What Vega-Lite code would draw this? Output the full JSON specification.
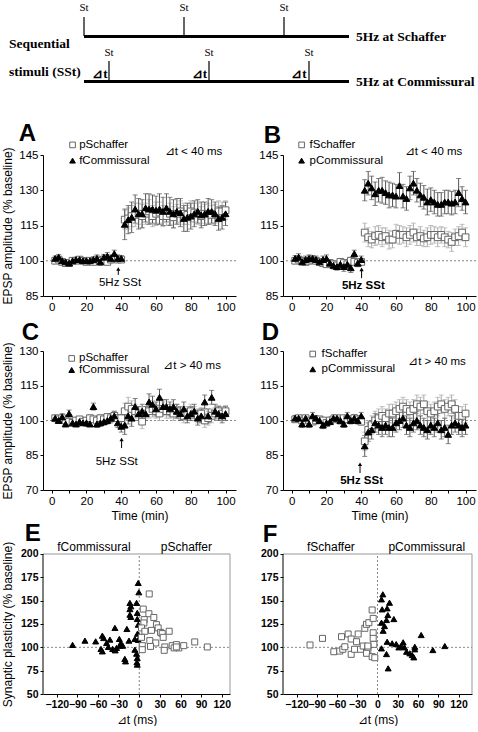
{
"$schema":"https://vega.github.io/schema/vega-lite/v6.json",
"autosize":{"type":"pad"},
"padding":{"left":0,"top":0,"right":0,"bottom":0},
"background":"white",
"bounds":"flush",
"columns":2,
"spacing":{"row":55,"column":47},
"config":{
 "view":{"stroke":null},
 "font":"Liberation Sans",
 "axis":{"domainColor":"#000000","domainWidth":1,"tickColor":"#000000","tickSize":3,"labelColor":"#000000","labelFontSize":11.5,"labelPadding":2,"titleFontSize":12,"titleFontWeight":"normal","titleColor":"#000000","grid":false,"labelOverlap":false,"labelFlush":false,"titleFont":"Liberation Sans","labelFont":"Liberation Sans"},
 "text":{"font":"Liberation Sans","fontSize":11.5,"color":"#000000"}
},
"datasets":{
"schem_lines":[{"x":0,"x2":530,"y":36.5},{"x":0,"x2":530,"y":81.5}],
"schem_ticks":[{"x":0,"y":17,"y2":36},{"x":200,"y":17,"y2":36},{"x":400,"y":17,"y2":36},{"x":50,"y":61,"y2":81},{"x":250,"y":61,"y2":81},{"x":450,"y":61,"y2":81}],
"schem_st":[{"x":0,"y":8,"label":"St"},{"x":200,"y":8,"label":"St"},{"x":400,"y":8,"label":"St"},{"x":50,"y":53,"label":"St"},{"x":250,"y":53,"label":"St"},{"x":450,"y":53,"label":"St"}],
"schem_dt":[{"x":32,"y":74,"label":"⊿t"},{"x":231,"y":74,"label":"⊿t"},{"x":430,"y":74,"label":"⊿t"}],
"schem_names":[{"x":544,"y":37,"label":"5Hz at Schaffer"},{"x":544,"y":82,"label":"5Hz at Commissural"},{"x":-150,"y":43.5,"label":"Sequential"},{"x":-150,"y":72,"label":"stimuli (SSt)"}],
"ts":[
{"p":"A","s":"sq","t":2,"y":100,"e":1},{"p":"A","s":"sq","t":4,"y":100.5,"e":1},{"p":"A","s":"sq","t":6,"y":99.5,"e":0.8},{"p":"A","s":"sq","t":8,"y":99,"e":1},{"p":"A","s":"sq","t":10,"y":99,"e":0.9},{"p":"A","s":"sq","t":12,"y":100,"e":1},{"p":"A","s":"sq","t":14,"y":100,"e":1},{"p":"A","s":"sq","t":16,"y":100.5,"e":1.1},{"p":"A","s":"sq","t":18,"y":100,"e":1},{"p":"A","s":"sq","t":20,"y":99.5,"e":1},
{"p":"A","s":"sq","t":22,"y":100,"e":1.2},{"p":"A","s":"sq","t":24,"y":99.5,"e":1},{"p":"A","s":"sq","t":26,"y":100.5,"e":1},{"p":"A","s":"sq","t":28,"y":100,"e":1.2},{"p":"A","s":"sq","t":30,"y":100.5,"e":1.5},{"p":"A","s":"sq","t":32,"y":99.5,"e":1.2},{"p":"A","s":"sq","t":34,"y":100.5,"e":1.5},{"p":"A","s":"sq","t":36,"y":101,"e":1.5},{"p":"A","s":"sq","t":38,"y":100.5,"e":1.2},{"p":"A","s":"sq","t":40,"y":100.5,"e":1},
{"p":"A","s":"sq","t":42,"y":117.5,"e":4},{"p":"A","s":"sq","t":44,"y":118,"e":4.5},{"p":"A","s":"sq","t":46,"y":119,"e":4.5},{"p":"A","s":"sq","t":48,"y":119.5,"e":5},{"p":"A","s":"sq","t":50,"y":120,"e":4.5},{"p":"A","s":"sq","t":52,"y":119,"e":5},{"p":"A","s":"sq","t":54,"y":120,"e":4.5},{"p":"A","s":"sq","t":56,"y":121,"e":5},{"p":"A","s":"sq","t":58,"y":119,"e":4.5},{"p":"A","s":"sq","t":60,"y":120,"e":5},
{"p":"A","s":"sq","t":62,"y":120.5,"e":4.5},{"p":"A","s":"sq","t":64,"y":119,"e":4.5},{"p":"A","s":"sq","t":66,"y":119,"e":4},{"p":"A","s":"sq","t":68,"y":120,"e":4.5},{"p":"A","s":"sq","t":70,"y":118.5,"e":4.5},{"p":"A","s":"sq","t":72,"y":120,"e":4},{"p":"A","s":"sq","t":74,"y":121,"e":4.5},{"p":"A","s":"sq","t":76,"y":120,"e":4.5},{"p":"A","s":"sq","t":78,"y":119.5,"e":4},{"p":"A","s":"sq","t":80,"y":121,"e":4.5},
{"p":"A","s":"sq","t":82,"y":120.5,"e":4},{"p":"A","s":"sq","t":84,"y":120,"e":4.5},{"p":"A","s":"sq","t":86,"y":119,"e":4},{"p":"A","s":"sq","t":88,"y":120,"e":4},{"p":"A","s":"sq","t":90,"y":120,"e":4.5},{"p":"A","s":"sq","t":92,"y":119.5,"e":4},{"p":"A","s":"sq","t":94,"y":120,"e":4},{"p":"A","s":"sq","t":96,"y":121,"e":4.5},{"p":"A","s":"sq","t":98,"y":121,"e":4},{"p":"A","s":"sq","t":100,"y":121.5,"e":4},
{"p":"A","s":"tri","t":2,"y":101,"e":1},{"p":"A","s":"tri","t":4,"y":101.5,"e":1.2},{"p":"A","s":"tri","t":6,"y":100,"e":1},{"p":"A","s":"tri","t":8,"y":99.5,"e":1},{"p":"A","s":"tri","t":10,"y":99,"e":1},{"p":"A","s":"tri","t":12,"y":100,"e":1},{"p":"A","s":"tri","t":14,"y":100.5,"e":1},{"p":"A","s":"tri","t":16,"y":100.5,"e":1.2},{"p":"A","s":"tri","t":18,"y":100,"e":1},{"p":"A","s":"tri","t":20,"y":100,"e":1},
{"p":"A","s":"tri","t":22,"y":100,"e":1},{"p":"A","s":"tri","t":24,"y":100.5,"e":1.2},{"p":"A","s":"tri","t":26,"y":101,"e":1.5},{"p":"A","s":"tri","t":28,"y":99.5,"e":1.5},{"p":"A","s":"tri","t":30,"y":101.5,"e":1.2},{"p":"A","s":"tri","t":32,"y":102,"e":1.5},{"p":"A","s":"tri","t":34,"y":101,"e":1.5},{"p":"A","s":"tri","t":36,"y":103,"e":1.5},{"p":"A","s":"tri","t":38,"y":101,"e":1.5},{"p":"A","s":"tri","t":40,"y":101,"e":1.2},
{"p":"A","s":"tri","t":42,"y":115.5,"e":6.5},{"p":"A","s":"tri","t":44,"y":117.5,"e":6},{"p":"A","s":"tri","t":46,"y":118.5,"e":6.5},{"p":"A","s":"tri","t":48,"y":122,"e":6},{"p":"A","s":"tri","t":50,"y":120,"e":6.5},{"p":"A","s":"tri","t":52,"y":120,"e":6},{"p":"A","s":"tri","t":54,"y":122.5,"e":6},{"p":"A","s":"tri","t":56,"y":122,"e":6.5},{"p":"A","s":"tri","t":58,"y":122,"e":6},{"p":"A","s":"tri","t":60,"y":121.5,"e":6},
{"p":"A","s":"tri","t":62,"y":122,"e":6.5},{"p":"A","s":"tri","t":64,"y":121,"e":6},{"p":"A","s":"tri","t":66,"y":122.5,"e":6},{"p":"A","s":"tri","t":68,"y":121,"e":6},{"p":"A","s":"tri","t":70,"y":120,"e":6},{"p":"A","s":"tri","t":72,"y":121,"e":5.5},{"p":"A","s":"tri","t":74,"y":120.5,"e":6},{"p":"A","s":"tri","t":76,"y":118,"e":5.5},{"p":"A","s":"tri","t":78,"y":118.5,"e":6},{"p":"A","s":"tri","t":80,"y":119,"e":5.5},
{"p":"A","s":"tri","t":82,"y":120,"e":5.5},{"p":"A","s":"tri","t":84,"y":121,"e":5},{"p":"A","s":"tri","t":86,"y":119.5,"e":5.5},{"p":"A","s":"tri","t":88,"y":120,"e":5},{"p":"A","s":"tri","t":90,"y":121,"e":5.5},{"p":"A","s":"tri","t":92,"y":121,"e":5},{"p":"A","s":"tri","t":94,"y":120,"e":5},{"p":"A","s":"tri","t":96,"y":118,"e":5},{"p":"A","s":"tri","t":98,"y":118.5,"e":5},{"p":"A","s":"tri","t":100,"y":120,"e":5},
{"p":"B","s":"sq","t":2,"y":100,"e":1},{"p":"B","s":"sq","t":4,"y":100.5,"e":1},{"p":"B","s":"sq","t":6,"y":100,"e":1},{"p":"B","s":"sq","t":8,"y":99.5,"e":1},{"p":"B","s":"sq","t":10,"y":100,"e":1.2},{"p":"B","s":"sq","t":12,"y":100.5,"e":1},{"p":"B","s":"sq","t":14,"y":100,"e":1.2},{"p":"B","s":"sq","t":16,"y":99.5,"e":1},{"p":"B","s":"sq","t":18,"y":99,"e":1.2},{"p":"B","s":"sq","t":20,"y":98.5,"e":1.2},
{"p":"B","s":"sq","t":22,"y":99,"e":1.5},{"p":"B","s":"sq","t":24,"y":98.5,"e":1.2},{"p":"B","s":"sq","t":26,"y":98,"e":1.2},{"p":"B","s":"sq","t":28,"y":99.5,"e":1.5},{"p":"B","s":"sq","t":30,"y":99,"e":1.5},{"p":"B","s":"sq","t":32,"y":98.5,"e":1.5},{"p":"B","s":"sq","t":34,"y":100,"e":1.5},{"p":"B","s":"sq","t":36,"y":99.5,"e":1.5},{"p":"B","s":"sq","t":38,"y":99,"e":1.5},{"p":"B","s":"sq","t":40,"y":99.5,"e":1.2},
{"p":"B","s":"sq","t":42,"y":112,"e":4},{"p":"B","s":"sq","t":44,"y":110,"e":4},{"p":"B","s":"sq","t":46,"y":109,"e":3.5},{"p":"B","s":"sq","t":48,"y":110.5,"e":4},{"p":"B","s":"sq","t":50,"y":111,"e":4},{"p":"B","s":"sq","t":52,"y":110,"e":4},{"p":"B","s":"sq","t":54,"y":110.5,"e":3.5},{"p":"B","s":"sq","t":56,"y":109,"e":4},{"p":"B","s":"sq","t":58,"y":109,"e":3.5},{"p":"B","s":"sq","t":60,"y":111.5,"e":4},
{"p":"B","s":"sq","t":62,"y":111,"e":4},{"p":"B","s":"sq","t":64,"y":111,"e":3.5},{"p":"B","s":"sq","t":66,"y":110,"e":4},{"p":"B","s":"sq","t":68,"y":111,"e":4},{"p":"B","s":"sq","t":70,"y":112,"e":4},{"p":"B","s":"sq","t":72,"y":110,"e":3.5},{"p":"B","s":"sq","t":74,"y":110.5,"e":4},{"p":"B","s":"sq","t":76,"y":109.5,"e":3.5},{"p":"B","s":"sq","t":78,"y":110,"e":4},{"p":"B","s":"sq","t":80,"y":111,"e":4},
{"p":"B","s":"sq","t":82,"y":111,"e":3.5},{"p":"B","s":"sq","t":84,"y":110,"e":4},{"p":"B","s":"sq","t":86,"y":111,"e":3.5},{"p":"B","s":"sq","t":88,"y":110,"e":4},{"p":"B","s":"sq","t":90,"y":109,"e":3.5},{"p":"B","s":"sq","t":92,"y":108,"e":4},{"p":"B","s":"sq","t":94,"y":110,"e":3.5},{"p":"B","s":"sq","t":96,"y":110.5,"e":4},{"p":"B","s":"sq","t":98,"y":112,"e":3.5},{"p":"B","s":"sq","t":100,"y":110,"e":4},
{"p":"B","s":"tri","t":2,"y":101,"e":1.2},{"p":"B","s":"tri","t":4,"y":101.5,"e":1.5},{"p":"B","s":"tri","t":6,"y":99.5,"e":1.2},{"p":"B","s":"tri","t":8,"y":100.5,"e":1.5},{"p":"B","s":"tri","t":10,"y":101,"e":1.5},{"p":"B","s":"tri","t":12,"y":101,"e":1.2},{"p":"B","s":"tri","t":14,"y":100.5,"e":1.5},{"p":"B","s":"tri","t":16,"y":99.5,"e":1.5},{"p":"B","s":"tri","t":18,"y":100.5,"e":1.5},{"p":"B","s":"tri","t":20,"y":101,"e":1.5},
{"p":"B","s":"tri","t":22,"y":99,"e":1.5},{"p":"B","s":"tri","t":24,"y":98,"e":1.5},{"p":"B","s":"tri","t":26,"y":97.5,"e":1.5},{"p":"B","s":"tri","t":28,"y":98.5,"e":1.5},{"p":"B","s":"tri","t":30,"y":97.5,"e":2},{"p":"B","s":"tri","t":32,"y":98.5,"e":2},{"p":"B","s":"tri","t":34,"y":97,"e":2},{"p":"B","s":"tri","t":36,"y":103,"e":1.5},{"p":"B","s":"tri","t":38,"y":99,"e":1.5},{"p":"B","s":"tri","t":40,"y":100.5,"e":1.5},
{"p":"B","s":"tri","t":42,"y":130,"e":4.5},{"p":"B","s":"tri","t":44,"y":133,"e":5},{"p":"B","s":"tri","t":46,"y":131,"e":5},{"p":"B","s":"tri","t":48,"y":128.5,"e":5},{"p":"B","s":"tri","t":50,"y":130,"e":5},{"p":"B","s":"tri","t":52,"y":130,"e":5.5},{"p":"B","s":"tri","t":54,"y":129,"e":5},{"p":"B","s":"tri","t":56,"y":128,"e":5.5},{"p":"B","s":"tri","t":58,"y":128,"e":5},{"p":"B","s":"tri","t":60,"y":127.5,"e":5},
{"p":"B","s":"tri","t":62,"y":132,"e":5.5},{"p":"B","s":"tri","t":64,"y":127.5,"e":5},{"p":"B","s":"tri","t":66,"y":126.5,"e":5},{"p":"B","s":"tri","t":68,"y":131,"e":5},{"p":"B","s":"tri","t":70,"y":133,"e":5},{"p":"B","s":"tri","t":72,"y":130,"e":5},{"p":"B","s":"tri","t":74,"y":128,"e":5},{"p":"B","s":"tri","t":76,"y":127,"e":5},{"p":"B","s":"tri","t":78,"y":125,"e":5.5},{"p":"B","s":"tri","t":80,"y":126,"e":5},
{"p":"B","s":"tri","t":82,"y":125,"e":5},{"p":"B","s":"tri","t":84,"y":124,"e":5},{"p":"B","s":"tri","t":86,"y":124,"e":5},{"p":"B","s":"tri","t":88,"y":125,"e":5},{"p":"B","s":"tri","t":90,"y":125,"e":5},{"p":"B","s":"tri","t":92,"y":124.5,"e":5},{"p":"B","s":"tri","t":94,"y":125,"e":5},{"p":"B","s":"tri","t":96,"y":129,"e":6},{"p":"B","s":"tri","t":98,"y":126.5,"e":5},{"p":"B","s":"tri","t":100,"y":125,"e":5},
{"p":"C","s":"sq","t":2,"y":101,"e":1.2},{"p":"C","s":"sq","t":4,"y":100.5,"e":1},{"p":"C","s":"sq","t":6,"y":101,"e":1.2},{"p":"C","s":"sq","t":8,"y":100,"e":1},{"p":"C","s":"sq","t":10,"y":99.5,"e":1.2},{"p":"C","s":"sq","t":12,"y":99,"e":1},{"p":"C","s":"sq","t":14,"y":100,"e":1.2},{"p":"C","s":"sq","t":16,"y":100.5,"e":1},{"p":"C","s":"sq","t":18,"y":99.5,"e":1.2},{"p":"C","s":"sq","t":20,"y":100,"e":1},
{"p":"C","s":"sq","t":22,"y":101,"e":1.5},{"p":"C","s":"sq","t":24,"y":100.5,"e":1.2},{"p":"C","s":"sq","t":26,"y":100,"e":1.5},{"p":"C","s":"sq","t":28,"y":101,"e":1.5},{"p":"C","s":"sq","t":30,"y":100.5,"e":1.5},{"p":"C","s":"sq","t":32,"y":101.5,"e":1.5},{"p":"C","s":"sq","t":34,"y":101,"e":1.5},{"p":"C","s":"sq","t":36,"y":102,"e":2},{"p":"C","s":"sq","t":38,"y":101,"e":1.5},{"p":"C","s":"sq","t":40,"y":101,"e":1.5},
{"p":"C","s":"sq","t":42,"y":104,"e":3.5},{"p":"C","s":"sq","t":44,"y":106,"e":4},{"p":"C","s":"sq","t":46,"y":105,"e":3.5},{"p":"C","s":"sq","t":48,"y":104,"e":3},{"p":"C","s":"sq","t":50,"y":103,"e":3},{"p":"C","s":"sq","t":52,"y":99.5,"e":3},{"p":"C","s":"sq","t":54,"y":103,"e":3},{"p":"C","s":"sq","t":56,"y":104,"e":3},{"p":"C","s":"sq","t":58,"y":105,"e":3.5},{"p":"C","s":"sq","t":60,"y":104,"e":3},
{"p":"C","s":"sq","t":62,"y":103,"e":3},{"p":"C","s":"sq","t":64,"y":105,"e":3},{"p":"C","s":"sq","t":66,"y":104,"e":3},{"p":"C","s":"sq","t":68,"y":104,"e":3},{"p":"C","s":"sq","t":70,"y":103,"e":3},{"p":"C","s":"sq","t":72,"y":104,"e":3},{"p":"C","s":"sq","t":74,"y":103,"e":2.5},{"p":"C","s":"sq","t":76,"y":102,"e":3},{"p":"C","s":"sq","t":78,"y":103,"e":3},{"p":"C","s":"sq","t":80,"y":104,"e":3},
{"p":"C","s":"sq","t":82,"y":103,"e":3},{"p":"C","s":"sq","t":84,"y":102,"e":3},{"p":"C","s":"sq","t":86,"y":103,"e":2.5},{"p":"C","s":"sq","t":88,"y":100,"e":3},{"p":"C","s":"sq","t":90,"y":101,"e":3},{"p":"C","s":"sq","t":92,"y":102,"e":3},{"p":"C","s":"sq","t":94,"y":103,"e":2.5},{"p":"C","s":"sq","t":96,"y":104,"e":2.5},{"p":"C","s":"sq","t":98,"y":103,"e":3},{"p":"C","s":"sq","t":100,"y":104,"e":2.5},
{"p":"C","s":"tri","t":2,"y":101,"e":1.2},{"p":"C","s":"tri","t":4,"y":100,"e":1.2},{"p":"C","s":"tri","t":6,"y":101.5,"e":1.5},{"p":"C","s":"tri","t":8,"y":98.5,"e":1.2},{"p":"C","s":"tri","t":10,"y":103,"e":1.5},{"p":"C","s":"tri","t":12,"y":99,"e":1.2},{"p":"C","s":"tri","t":14,"y":98.5,"e":1.2},{"p":"C","s":"tri","t":16,"y":99.5,"e":1.2},{"p":"C","s":"tri","t":18,"y":99,"e":1.2},{"p":"C","s":"tri","t":20,"y":99,"e":1.5},
{"p":"C","s":"tri","t":22,"y":98.5,"e":1.2},{"p":"C","s":"tri","t":24,"y":106,"e":1.5},{"p":"C","s":"tri","t":26,"y":98.5,"e":1.5},{"p":"C","s":"tri","t":28,"y":99,"e":1.5},{"p":"C","s":"tri","t":30,"y":99.5,"e":1.5},{"p":"C","s":"tri","t":32,"y":100,"e":1.5},{"p":"C","s":"tri","t":34,"y":101,"e":2},{"p":"C","s":"tri","t":36,"y":102,"e":2},{"p":"C","s":"tri","t":38,"y":99,"e":2},{"p":"C","s":"tri","t":40,"y":97.5,"e":2.5},
{"p":"C","s":"tri","t":42,"y":98,"e":4},{"p":"C","s":"tri","t":44,"y":102,"e":3.5},{"p":"C","s":"tri","t":46,"y":101,"e":3.5},{"p":"C","s":"tri","t":48,"y":106,"e":3.5},{"p":"C","s":"tri","t":50,"y":103,"e":3},{"p":"C","s":"tri","t":52,"y":104,"e":3},{"p":"C","s":"tri","t":54,"y":103,"e":3},{"p":"C","s":"tri","t":56,"y":108,"e":3.5},{"p":"C","s":"tri","t":58,"y":107,"e":3.5},{"p":"C","s":"tri","t":60,"y":105,"e":3},
{"p":"C","s":"tri","t":62,"y":110,"e":3.5},{"p":"C","s":"tri","t":64,"y":106,"e":3},{"p":"C","s":"tri","t":66,"y":106,"e":3},{"p":"C","s":"tri","t":68,"y":105,"e":3},{"p":"C","s":"tri","t":70,"y":106,"e":3},{"p":"C","s":"tri","t":72,"y":104,"e":3},{"p":"C","s":"tri","t":74,"y":103,"e":3},{"p":"C","s":"tri","t":76,"y":105,"e":3},{"p":"C","s":"tri","t":78,"y":102,"e":3},{"p":"C","s":"tri","t":80,"y":103,"e":3},
{"p":"C","s":"tri","t":82,"y":104,"e":3},{"p":"C","s":"tri","t":84,"y":101,"e":3},{"p":"C","s":"tri","t":86,"y":102,"e":3},{"p":"C","s":"tri","t":88,"y":108,"e":3},{"p":"C","s":"tri","t":90,"y":102,"e":3},{"p":"C","s":"tri","t":92,"y":110,"e":3},{"p":"C","s":"tri","t":94,"y":104,"e":3},{"p":"C","s":"tri","t":96,"y":103,"e":3},{"p":"C","s":"tri","t":98,"y":102,"e":3},{"p":"C","s":"tri","t":100,"y":103,"e":3},
{"p":"D","s":"sq","t":2,"y":100.5,"e":1.2},{"p":"D","s":"sq","t":4,"y":101,"e":1.2},{"p":"D","s":"sq","t":6,"y":100,"e":1.5},{"p":"D","s":"sq","t":8,"y":101,"e":1.2},{"p":"D","s":"sq","t":10,"y":100,"e":1.2},{"p":"D","s":"sq","t":12,"y":99.5,"e":1.2},{"p":"D","s":"sq","t":14,"y":100,"e":1.2},{"p":"D","s":"sq","t":16,"y":100.5,"e":1.2},{"p":"D","s":"sq","t":18,"y":100,"e":1.2},{"p":"D","s":"sq","t":20,"y":99,"e":1.2},
{"p":"D","s":"sq","t":22,"y":100,"e":1.5},{"p":"D","s":"sq","t":24,"y":100.5,"e":1.2},{"p":"D","s":"sq","t":26,"y":101,"e":1.2},{"p":"D","s":"sq","t":28,"y":100,"e":1.5},{"p":"D","s":"sq","t":30,"y":101,"e":1.2},{"p":"D","s":"sq","t":32,"y":100.5,"e":1.5},{"p":"D","s":"sq","t":34,"y":100.5,"e":1.2},{"p":"D","s":"sq","t":36,"y":101,"e":1.5},{"p":"D","s":"sq","t":38,"y":100.5,"e":1.5},{"p":"D","s":"sq","t":40,"y":99.5,"e":1.5},
{"p":"D","s":"sq","t":42,"y":91,"e":4},{"p":"D","s":"sq","t":44,"y":96,"e":4},{"p":"D","s":"sq","t":46,"y":98,"e":4},{"p":"D","s":"sq","t":48,"y":100,"e":4},{"p":"D","s":"sq","t":50,"y":101,"e":4},{"p":"D","s":"sq","t":52,"y":102,"e":4},{"p":"D","s":"sq","t":54,"y":101,"e":4},{"p":"D","s":"sq","t":56,"y":103,"e":4},{"p":"D","s":"sq","t":58,"y":103,"e":4},{"p":"D","s":"sq","t":60,"y":104,"e":4},
{"p":"D","s":"sq","t":62,"y":105,"e":4},{"p":"D","s":"sq","t":64,"y":106,"e":4},{"p":"D","s":"sq","t":66,"y":105,"e":4},{"p":"D","s":"sq","t":68,"y":104,"e":4},{"p":"D","s":"sq","t":70,"y":105,"e":4},{"p":"D","s":"sq","t":72,"y":107,"e":4},{"p":"D","s":"sq","t":74,"y":106,"e":4},{"p":"D","s":"sq","t":76,"y":107,"e":4},{"p":"D","s":"sq","t":78,"y":104,"e":4},{"p":"D","s":"sq","t":80,"y":103,"e":4},
{"p":"D","s":"sq","t":82,"y":104,"e":4},{"p":"D","s":"sq","t":84,"y":106,"e":4},{"p":"D","s":"sq","t":86,"y":107,"e":4},{"p":"D","s":"sq","t":88,"y":105,"e":4},{"p":"D","s":"sq","t":90,"y":106,"e":4},{"p":"D","s":"sq","t":92,"y":107,"e":4},{"p":"D","s":"sq","t":94,"y":105,"e":4},{"p":"D","s":"sq","t":96,"y":102,"e":4},{"p":"D","s":"sq","t":98,"y":102,"e":4},{"p":"D","s":"sq","t":100,"y":103,"e":4},
{"p":"D","s":"tri","t":2,"y":101,"e":1.2},{"p":"D","s":"tri","t":4,"y":101,"e":1.2},{"p":"D","s":"tri","t":6,"y":98.5,"e":1.5},{"p":"D","s":"tri","t":8,"y":101,"e":1.2},{"p":"D","s":"tri","t":10,"y":98.5,"e":1.5},{"p":"D","s":"tri","t":12,"y":102,"e":1.5},{"p":"D","s":"tri","t":14,"y":101,"e":1.2},{"p":"D","s":"tri","t":16,"y":100,"e":1.2},{"p":"D","s":"tri","t":18,"y":98,"e":1.5},{"p":"D","s":"tri","t":20,"y":99,"e":1.2},
{"p":"D","s":"tri","t":22,"y":99.5,"e":1.2},{"p":"D","s":"tri","t":24,"y":101,"e":1.5},{"p":"D","s":"tri","t":26,"y":101,"e":1.2},{"p":"D","s":"tri","t":28,"y":100,"e":1.2},{"p":"D","s":"tri","t":30,"y":98.5,"e":1.5},{"p":"D","s":"tri","t":32,"y":102,"e":1.5},{"p":"D","s":"tri","t":34,"y":100,"e":1.5},{"p":"D","s":"tri","t":36,"y":101,"e":1.5},{"p":"D","s":"tri","t":38,"y":100,"e":1.5},{"p":"D","s":"tri","t":40,"y":102,"e":1.5},
{"p":"D","s":"tri","t":42,"y":89,"e":4.5},{"p":"D","s":"tri","t":44,"y":95,"e":4},{"p":"D","s":"tri","t":46,"y":96,"e":4},{"p":"D","s":"tri","t":48,"y":99,"e":4},{"p":"D","s":"tri","t":50,"y":98,"e":4},{"p":"D","s":"tri","t":52,"y":97,"e":4},{"p":"D","s":"tri","t":54,"y":98,"e":4},{"p":"D","s":"tri","t":56,"y":97,"e":4},{"p":"D","s":"tri","t":58,"y":97,"e":4},{"p":"D","s":"tri","t":60,"y":99,"e":4},
{"p":"D","s":"tri","t":62,"y":100,"e":4},{"p":"D","s":"tri","t":64,"y":101,"e":4},{"p":"D","s":"tri","t":66,"y":98,"e":4},{"p":"D","s":"tri","t":68,"y":97,"e":4},{"p":"D","s":"tri","t":70,"y":99,"e":4},{"p":"D","s":"tri","t":72,"y":100,"e":4},{"p":"D","s":"tri","t":74,"y":98,"e":4},{"p":"D","s":"tri","t":76,"y":97,"e":4},{"p":"D","s":"tri","t":78,"y":96,"e":4},{"p":"D","s":"tri","t":80,"y":98,"e":4},
{"p":"D","s":"tri","t":82,"y":97,"e":4},{"p":"D","s":"tri","t":84,"y":99,"e":4},{"p":"D","s":"tri","t":86,"y":96,"e":4},{"p":"D","s":"tri","t":88,"y":97,"e":4},{"p":"D","s":"tri","t":90,"y":94,"e":4},{"p":"D","s":"tri","t":92,"y":98,"e":4},{"p":"D","s":"tri","t":94,"y":99,"e":4},{"p":"D","s":"tri","t":96,"y":98,"e":4},{"p":"D","s":"tri","t":98,"y":97,"e":4},{"p":"D","s":"tri","t":100,"y":98,"e":4}
],
"sc":[
{"p":"E","s":"tri","x":-1.5,"y":169},{"p":"E","s":"tri","x":-0.6,"y":159},{"p":"E","s":"tri","x":-13.6,"y":147.6},{"p":"E","s":"tri","x":-12.2,"y":144},{"p":"E","s":"tri","x":-3.9,"y":147.6},{"p":"E","s":"tri","x":-13.6,"y":141},{"p":"E","s":"tri","x":-13.6,"y":135},{"p":"E","s":"tri","x":-12.2,"y":132.6},{"p":"E","s":"tri","x":-2.9,"y":136.9},{"p":"E","s":"tri","x":-2.9,"y":130.4},
{"p":"E","s":"tri","x":-1.5,"y":124.3},{"p":"E","s":"tri","x":-35.4,"y":120.8},{"p":"E","s":"tri","x":-18,"y":119.7},{"p":"E","s":"tri","x":-2.5,"y":114.7},{"p":"E","s":"tri","x":-53.7,"y":112.5},{"p":"E","s":"tri","x":-51.8,"y":110},{"p":"E","s":"tri","x":-42.7,"y":108.3},{"p":"E","s":"tri","x":-29,"y":109},{"p":"E","s":"tri","x":-15,"y":107.2},{"p":"E","s":"tri","x":-6.4,"y":109},
{"p":"E","s":"tri","x":-97,"y":102.6},{"p":"E","s":"tri","x":-79,"y":107.2},{"p":"E","s":"tri","x":-63.4,"y":106.4},{"p":"E","s":"tri","x":-47.5,"y":104.7},{"p":"E","s":"tri","x":-26.7,"y":104.7},{"p":"E","s":"tri","x":-45,"y":100.4},{"p":"E","s":"tri","x":-28,"y":101.8},{"p":"E","s":"tri","x":-55.7,"y":98.3},{"p":"E","s":"tri","x":-53.7,"y":95.7},{"p":"E","s":"tri","x":-38.7,"y":98.3},
{"p":"E","s":"tri","x":-33,"y":99.4},{"p":"E","s":"tri","x":-24,"y":101.8},{"p":"E","s":"tri","x":-6.4,"y":97.5},{"p":"E","s":"tri","x":-3.9,"y":93.2},{"p":"E","s":"tri","x":-2.9,"y":88.6},{"p":"E","s":"tri","x":-3.4,"y":84},{"p":"E","s":"tri","x":-2.9,"y":81.5},{"p":"E","s":"tri","x":-21,"y":87.6},{"p":"E","s":"tri","x":-20,"y":85},{"p":"E","s":"tri","x":-35,"y":96.8},{"p":"E","s":"tri","x":-1.5,"y":108},
{"p":"E","s":"sq","x":14.5,"y":157.2},{"p":"E","s":"sq","x":5.8,"y":141},{"p":"E","s":"sq","x":14,"y":136},{"p":"E","s":"sq","x":21.2,"y":132},{"p":"E","s":"sq","x":7.2,"y":129.7},{"p":"E","s":"sq","x":6.7,"y":126.1},{"p":"E","s":"sq","x":3.3,"y":120.8},{"p":"E","s":"sq","x":25,"y":124.3},{"p":"E","s":"sq","x":27.5,"y":120.8},{"p":"E","s":"sq","x":17.8,"y":118.2},
{"p":"E","s":"sq","x":43.5,"y":117.2},{"p":"E","s":"sq","x":31,"y":116},{"p":"E","s":"sq","x":33.4,"y":114.7},{"p":"E","s":"sq","x":8.2,"y":117.2},{"p":"E","s":"sq","x":34.8,"y":110.7},{"p":"E","s":"sq","x":3.3,"y":110.7},{"p":"E","s":"sq","x":15.4,"y":107.2},{"p":"E","s":"sq","x":24,"y":104.7},{"p":"E","s":"sq","x":16.4,"y":101},{"p":"E","s":"sq","x":4.4,"y":101.8},
{"p":"E","s":"sq","x":4.4,"y":97.5},{"p":"E","s":"sq","x":37.2,"y":100.4},{"p":"E","s":"sq","x":36.3,"y":96.8},{"p":"E","s":"sq","x":47.9,"y":101.8},{"p":"E","s":"sq","x":54,"y":102.9},{"p":"E","s":"sq","x":57.5,"y":99.4},{"p":"E","s":"sq","x":64.7,"y":101.8},{"p":"E","s":"sq","x":80.7,"y":105.8},{"p":"E","s":"sq","x":99,"y":100.4},{"p":"E","s":"sq","x":50.8,"y":99.4},{"p":"E","s":"sq","x":54,"y":100.4},
{"p":"F","s":"sq","x":-100,"y":102.5},{"p":"F","s":"sq","x":-81.5,"y":109.6},{"p":"F","s":"sq","x":-64.7,"y":95.3},{"p":"F","s":"sq","x":-55.9,"y":96},{"p":"F","s":"sq","x":-53.3,"y":111.4},{"p":"F","s":"sq","x":-51.4,"y":97.9},{"p":"F","s":"sq","x":-48.4,"y":100.6},{"p":"F","s":"sq","x":-39,"y":92.5},{"p":"F","s":"sq","x":-43.5,"y":114.3},{"p":"F","s":"sq","x":-39,"y":108.9},
{"p":"F","s":"sq","x":-31,"y":106},{"p":"F","s":"sq","x":-28.6,"y":114.3},{"p":"F","s":"sq","x":-34,"y":97.9},{"p":"F","s":"sq","x":-25.2,"y":97.9},{"p":"F","s":"sq","x":-21.2,"y":101.4},{"p":"F","s":"sq","x":-18.8,"y":120.4},{"p":"F","s":"sq","x":-16.3,"y":124.6},{"p":"F","s":"sq","x":-12.8,"y":126.4},{"p":"F","s":"sq","x":-6.4,"y":131},{"p":"F","s":"sq","x":-7.9,"y":140},
{"p":"F","s":"sq","x":-6.4,"y":115.6},{"p":"F","s":"sq","x":-6.4,"y":109.6},{"p":"F","s":"sq","x":-5.4,"y":103.2},{"p":"F","s":"sq","x":-14.3,"y":100},{"p":"F","s":"sq","x":-14.3,"y":96},{"p":"F","s":"sq","x":-16.3,"y":93.6},{"p":"F","s":"sq","x":-7.9,"y":90},{"p":"F","s":"sq","x":-4,"y":88.9},{"p":"F","s":"sq","x":-14.3,"y":101.4},
{"p":"F","s":"tri","x":7.9,"y":156.8},{"p":"F","s":"tri","x":5.9,"y":151.4},{"p":"F","s":"tri","x":17.8,"y":147.8},{"p":"F","s":"tri","x":6.9,"y":140.7},{"p":"F","s":"tri","x":14.3,"y":141.8},{"p":"F","s":"tri","x":15.3,"y":134.6},{"p":"F","s":"tri","x":13.3,"y":129.3},{"p":"F","s":"tri","x":24.2,"y":130.3},{"p":"F","s":"tri","x":5.9,"y":126.4},{"p":"F","s":"tri","x":10.4,"y":122.8},
{"p":"F","s":"tri","x":8.4,"y":117.8},{"p":"F","s":"tri","x":14.3,"y":106},{"p":"F","s":"tri","x":21.7,"y":104.3},{"p":"F","s":"tri","x":27.7,"y":103.5},{"p":"F","s":"tri","x":38,"y":105.4},{"p":"F","s":"tri","x":31.6,"y":100},{"p":"F","s":"tri","x":40,"y":100},{"p":"F","s":"tri","x":5.9,"y":98.9},{"p":"F","s":"tri","x":13.3,"y":92.8},{"p":"F","s":"tri","x":15.8,"y":77.5},
{"p":"F","s":"tri","x":43,"y":95.3},{"p":"F","s":"tri","x":47.9,"y":93.6},{"p":"F","s":"tri","x":51.4,"y":91.7},{"p":"F","s":"tri","x":53.8,"y":89.3},{"p":"F","s":"tri","x":55.3,"y":100.6},{"p":"F","s":"tri","x":55.3,"y":97.9},{"p":"F","s":"tri","x":64.7,"y":113.2},{"p":"F","s":"tri","x":82,"y":97.1},{"p":"F","s":"tri","x":99.7,"y":101.4},{"p":"F","s":"tri","x":35,"y":101.4}
]
},
"concat":[
{
 "width":193,"height":100,
 "layer":[
  {"data":{"name":"schem_lines"},"mark":{"type":"rule","strokeWidth":3,"color":"#000000"},"encoding":{"x":{"field":"x","type":"quantitative","scale":{"domain":[-82,304],"nice":false,"zero":false},"axis":null},"x2":{"field":"x2"},"y":{"field":"y","type":"quantitative","scale":{"domain":[0,100],"nice":false,"zero":false,"reverse":true},"axis":null}}},
  {"data":{"name":"schem_ticks"},"mark":{"type":"rule","strokeWidth":1.2,"color":"#000000"},"encoding":{"x":{"field":"x","type":"quantitative","axis":null},"y":{"field":"y","type":"quantitative","axis":null},"y2":{"field":"y2"}}},
  {"data":{"name":"schem_st"},"mark":{"type":"text","font":"Liberation Serif","fontSize":11,"align":"center","baseline":"middle"},"encoding":{"x":{"field":"x","type":"quantitative","axis":null},"y":{"field":"y","type":"quantitative","axis":null},"text":{"field":"label"}}},
  {"data":{"name":"schem_dt"},"mark":{"type":"text","font":"Liberation Serif","fontSize":13,"fontWeight":"bold","align":"center","baseline":"middle"},"encoding":{"x":{"field":"x","type":"quantitative","axis":null},"y":{"field":"y","type":"quantitative","axis":null},"text":{"field":"label"}}},
  {"data":{"name":"schem_names"},"mark":{"type":"text","font":"Liberation Serif","fontSize":13.5,"fontWeight":"bold","align":"left","baseline":"middle"},"encoding":{"x":{"field":"x","type":"quantitative","axis":null},"y":{"field":"y","type":"quantitative","axis":null},"text":{"field":"label"}}}
 ]
},
{
 "width":193,"height":100,
 "data":{"values":[{}]},
 "mark":{"type":"text","text":""},
 "encoding":{}
},
{
 "width":193,"height":141,
 "layer":[
  {"data":{"values":[{}]},"mark":{"type":"rule","color":"#888888","strokeDash":[2,2],"strokeWidth":1},"encoding":{"y":{"datum":100,"type":"quantitative"}}},
  {"data":{"name":"ts"},"transform":[{"filter":"datum.p==='A'"}],"mark":{"type":"errorbar","ticks":{"size":5},"thickness":1},"encoding":{"x":{"field":"t","type":"quantitative","title":null},"y":{"field":"y","type":"quantitative","title":"EPSP amplitude (% baseline)"},"yError":{"field":"e"},"color":{"field":"s","type":"nominal","scale":{"domain":["sq","tri"],"range":["#aaaaaa","#555555"]},"legend":null}}},
  {"data":{"name":"ts"},"transform":[{"filter":"datum.p==='A'"}],"mark":{"type":"point","filled":true,"size":45,"strokeWidth":1,"opacity":1},"encoding":{
    "x":{"field":"t","type":"quantitative","scale":{"domain":[-5,106],"nice":false,"zero":false},"axis":{"values":[0,10,20,30,40,50,60,70,80,90,100],"tickCount":30,"labelExpr":"datum.value % 20 === 0 ? datum.label : ''","title":null,"labelOverlap":false}},
    "y":{"field":"y","type":"quantitative","scale":{"domain":[85,145],"nice":false,"zero":false},"axis":{"values":[85,100,115,130,145],"tickCount":30,"title":"EPSP amplitude (% baseline)","titleX":-29,"labelOverlap":false}},
    "shape":{"field":"s","type":"nominal","scale":{"domain":["sq","tri"],"range":["square","triangle-up"]},"legend":null},
    "fill":{"field":"s","type":"nominal","scale":{"domain":["sq","tri"],"range":["#ffffff","#000000"]},"legend":null},
    "stroke":{"field":"s","type":"nominal","scale":{"domain":["sq","tri"],"range":["#666666","#000000"]},"legend":null}}},
  {"data":{"values":[{"s":"sq","t":12,"y":149.3},{"s":"tri","t":12,"y":142.6}]},"mark":{"type":"point","filled":true,"size":32,"strokeWidth":1,"opacity":1},"encoding":{"x":{"field":"t","type":"quantitative"},"y":{"field":"y","type":"quantitative"},
    "shape":{"field":"s","type":"nominal","scale":{"domain":["sq","tri"],"range":["square","triangle-up"]},"legend":null},
    "fill":{"field":"s","type":"nominal","scale":{"domain":["sq","tri"],"range":["#ffffff","#000000"]},"legend":null},
    "stroke":{"field":"s","type":"nominal","scale":{"domain":["sq","tri"],"range":["#666666","#000000"]},"legend":null}}},
  {"data":{"values":[{"t":15.8,"y":149.3,"label":"pSchaffer"},{"t":15.8,"y":142.6,"label":"fCommissural"},{"t":65,"y":146.4,"label":"⊿t < 40 ms"}]},"mark":{"type":"text","align":"left","baseline":"middle","fontSize":11.5},"encoding":{"x":{"field":"t","type":"quantitative"},"y":{"field":"y","type":"quantitative"},"text":{"field":"label"}}},
  {"data":{"values":[{"t":38.3,"y":94,"y2":96}]},"mark":{"type":"rule","color":"#000000","strokeWidth":1},"encoding":{"x":{"field":"t","type":"quantitative"},"y":{"field":"y","type":"quantitative"},"y2":{"field":"y2"}}},
  {"data":{"values":[{"t":38.3,"y":96.5}]},"mark":{"type":"point","shape":"triangle-up","filled":true,"color":"#000000","size":18,"opacity":1},"encoding":{"x":{"field":"t","type":"quantitative"},"y":{"field":"y","type":"quantitative"}}},
  {"data":{"values":[{"t":39.3,"y":90.5,"label":"5Hz SSt"}]},"mark":{"type":"text","align":"center","baseline":"middle","fontSize":11.5},"encoding":{"x":{"field":"t","type":"quantitative"},"y":{"field":"y","type":"quantitative"},"text":{"field":"label"}}},
  {"data":{"values":[{"t":-19,"y":150.8,"label":"A"}]},"mark":{"type":"text","align":"left","baseline":"alphabetic","fontSize":24,"fontWeight":"bold"},"encoding":{"x":{"field":"t","type":"quantitative"},"y":{"field":"y","type":"quantitative"},"text":{"field":"label"}}}
 ]
},
{
 "width":193,"height":141,
 "layer":[
  {"data":{"values":[{}]},"mark":{"type":"rule","color":"#888888","strokeDash":[2,2],"strokeWidth":1},"encoding":{"y":{"datum":100,"type":"quantitative"}}},
  {"data":{"name":"ts"},"transform":[{"filter":"datum.p==='B'"}],"mark":{"type":"errorbar","ticks":{"size":5},"thickness":1},"encoding":{"x":{"field":"t","type":"quantitative","title":null},"y":{"field":"y","type":"quantitative","title":null},"yError":{"field":"e"},"color":{"field":"s","type":"nominal","scale":{"domain":["sq","tri"],"range":["#aaaaaa","#555555"]},"legend":null}}},
  {"data":{"name":"ts"},"transform":[{"filter":"datum.p==='B'"}],"mark":{"type":"point","filled":true,"size":45,"strokeWidth":1,"opacity":1},"encoding":{
    "x":{"field":"t","type":"quantitative","scale":{"domain":[-5,106],"nice":false,"zero":false},"axis":{"values":[0,10,20,30,40,50,60,70,80,90,100],"tickCount":30,"labelExpr":"datum.value % 20 === 0 ? datum.label : ''","title":null,"labelOverlap":false}},
    "y":{"field":"y","type":"quantitative","scale":{"domain":[85,145],"nice":false,"zero":false},"axis":{"values":[85,100,115,130,145],"tickCount":30,"title":null,"labelOverlap":false}},
    "shape":{"field":"s","type":"nominal","scale":{"domain":["sq","tri"],"range":["square","triangle-up"]},"legend":null},
    "fill":{"field":"s","type":"nominal","scale":{"domain":["sq","tri"],"range":["#ffffff","#000000"]},"legend":null},
    "stroke":{"field":"s","type":"nominal","scale":{"domain":["sq","tri"],"range":["#666666","#000000"]},"legend":null}}},
  {"data":{"values":[{"s":"sq","t":5.7,"y":149.3},{"s":"tri","t":5.7,"y":142.6}]},"mark":{"type":"point","filled":true,"size":32,"strokeWidth":1,"opacity":1},"encoding":{"x":{"field":"t","type":"quantitative"},"y":{"field":"y","type":"quantitative"},
    "shape":{"field":"s","type":"nominal","scale":{"domain":["sq","tri"],"range":["square","triangle-up"]},"legend":null},
    "fill":{"field":"s","type":"nominal","scale":{"domain":["sq","tri"],"range":["#ffffff","#000000"]},"legend":null},
    "stroke":{"field":"s","type":"nominal","scale":{"domain":["sq","tri"],"range":["#666666","#000000"]},"legend":null}}},
  {"data":{"values":[{"t":10.3,"y":149.3,"label":"fSchaffer"},{"t":10.3,"y":142.6,"label":"pCommissural"},{"t":65,"y":146.1,"label":"⊿t < 40 ms"}]},"mark":{"type":"text","align":"left","baseline":"middle","fontSize":11.5},"encoding":{"x":{"field":"t","type":"quantitative"},"y":{"field":"y","type":"quantitative"},"text":{"field":"label"}}},
  {"data":{"values":[{"t":40.2,"y":92.6,"y2":96}]},"mark":{"type":"rule","color":"#000000","strokeWidth":1},"encoding":{"x":{"field":"t","type":"quantitative"},"y":{"field":"y","type":"quantitative"},"y2":{"field":"y2"}}},
  {"data":{"values":[{"t":40.2,"y":96.3}]},"mark":{"type":"point","shape":"triangle-up","filled":true,"color":"#000000","size":18,"opacity":1},"encoding":{"x":{"field":"t","type":"quantitative"},"y":{"field":"y","type":"quantitative"}}},
  {"data":{"values":[{"t":41.2,"y":89.1,"label":"5Hz SSt"}]},"mark":{"type":"text","align":"center","baseline":"middle","fontSize":11.5,"fontWeight":"bold"},"encoding":{"x":{"field":"t","type":"quantitative"},"y":{"field":"y","type":"quantitative"},"text":{"field":"label"}}},
  {"data":{"values":[{"t":-16.1,"y":150.1,"label":"B"}]},"mark":{"type":"text","align":"left","baseline":"alphabetic","fontSize":24,"fontWeight":"bold"},"encoding":{"x":{"field":"t","type":"quantitative"},"y":{"field":"y","type":"quantitative"},"text":{"field":"label"}}}
 ]
},
{
 "width":193,"height":139,
 "layer":[
  {"data":{"values":[{}]},"mark":{"type":"rule","color":"#888888","strokeDash":[2,2],"strokeWidth":1},"encoding":{"y":{"datum":100,"type":"quantitative"}}},
  {"data":{"name":"ts"},"transform":[{"filter":"datum.p==='C'"}],"mark":{"type":"errorbar","ticks":{"size":5},"thickness":1},"encoding":{"x":{"field":"t","type":"quantitative","title":"Time (min)"},"y":{"field":"y","type":"quantitative","title":"EPSP amplitude (% baseline)"},"yError":{"field":"e"},"color":{"field":"s","type":"nominal","scale":{"domain":["sq","tri"],"range":["#aaaaaa","#555555"]},"legend":null}}},
  {"data":{"name":"ts"},"transform":[{"filter":"datum.p==='C'"}],"mark":{"type":"point","filled":true,"size":45,"strokeWidth":1,"opacity":1},"encoding":{
    "x":{"field":"t","type":"quantitative","scale":{"domain":[-5,106],"nice":false,"zero":false},"axis":{"values":[0,10,20,30,40,50,60,70,80,90,100],"tickCount":30,"labelExpr":"datum.value % 20 === 0 ? datum.label : ''","title":"Time (min)","titlePadding":4,"labelOverlap":false}},
    "y":{"field":"y","type":"quantitative","scale":{"domain":[70,130],"nice":false,"zero":false},"axis":{"values":[70,85,100,115,130],"tickCount":30,"title":"EPSP amplitude (% baseline)","titleX":-29,"labelOverlap":false}},
    "shape":{"field":"s","type":"nominal","scale":{"domain":["sq","tri"],"range":["square","triangle-up"]},"legend":null},
    "fill":{"field":"s","type":"nominal","scale":{"domain":["sq","tri"],"range":["#ffffff","#000000"]},"legend":null},
    "stroke":{"field":"s","type":"nominal","scale":{"domain":["sq","tri"],"range":["#666666","#000000"]},"legend":null}}},
  {"data":{"values":[{"s":"sq","t":11.5,"y":126.8},{"s":"tri","t":11.5,"y":121.8}]},"mark":{"type":"point","filled":true,"size":32,"strokeWidth":1,"opacity":1},"encoding":{"x":{"field":"t","type":"quantitative"},"y":{"field":"y","type":"quantitative"},
    "shape":{"field":"s","type":"nominal","scale":{"domain":["sq","tri"],"range":["square","triangle-up"]},"legend":null},
    "fill":{"field":"s","type":"nominal","scale":{"domain":["sq","tri"],"range":["#ffffff","#000000"]},"legend":null},
    "stroke":{"field":"s","type":"nominal","scale":{"domain":["sq","tri"],"range":["#666666","#000000"]},"legend":null}}},
  {"data":{"values":[{"t":15.7,"y":126.8,"label":"pSchaffer"},{"t":15.7,"y":121.8,"label":"fCommissural"},{"t":64.2,"y":123.5,"label":"⊿t > 40 ms"}]},"mark":{"type":"text","align":"left","baseline":"middle","fontSize":11.5},"encoding":{"x":{"field":"t","type":"quantitative"},"y":{"field":"y","type":"quantitative"},"text":{"field":"label"}}},
  {"data":{"values":[{"t":40.2,"y":88.1,"y2":91.5}]},"mark":{"type":"rule","color":"#000000","strokeWidth":1},"encoding":{"x":{"field":"t","type":"quantitative"},"y":{"field":"y","type":"quantitative"},"y2":{"field":"y2"}}},
  {"data":{"values":[{"t":40.2,"y":91.8}]},"mark":{"type":"point","shape":"triangle-up","filled":true,"color":"#000000","size":18,"opacity":1},"encoding":{"x":{"field":"t","type":"quantitative"},"y":{"field":"y","type":"quantitative"}}},
  {"data":{"values":[{"t":37.4,"y":82.3,"label":"5Hz SSt"}]},"mark":{"type":"text","align":"center","baseline":"middle","fontSize":11.5},"encoding":{"x":{"field":"t","type":"quantitative"},"y":{"field":"y","type":"quantitative"},"text":{"field":"label"}}},
  {"data":{"values":[{"t":-17.2,"y":134.7,"label":"C"}]},"mark":{"type":"text","align":"left","baseline":"alphabetic","fontSize":24,"fontWeight":"bold"},"encoding":{"x":{"field":"t","type":"quantitative"},"y":{"field":"y","type":"quantitative"},"text":{"field":"label"}}}
 ]
},
{
 "width":193,"height":139,
 "layer":[
  {"data":{"values":[{}]},"mark":{"type":"rule","color":"#888888","strokeDash":[2,2],"strokeWidth":1},"encoding":{"y":{"datum":100,"type":"quantitative"}}},
  {"data":{"name":"ts"},"transform":[{"filter":"datum.p==='D'"}],"mark":{"type":"errorbar","ticks":{"size":5},"thickness":1},"encoding":{"x":{"field":"t","type":"quantitative","title":"Time (min)"},"y":{"field":"y","type":"quantitative","title":null},"yError":{"field":"e"},"color":{"field":"s","type":"nominal","scale":{"domain":["sq","tri"],"range":["#aaaaaa","#555555"]},"legend":null}}},
  {"data":{"name":"ts"},"transform":[{"filter":"datum.p==='D'"}],"mark":{"type":"point","filled":true,"size":45,"strokeWidth":1,"opacity":1},"encoding":{
    "x":{"field":"t","type":"quantitative","scale":{"domain":[-5,106],"nice":false,"zero":false},"axis":{"values":[0,10,20,30,40,50,60,70,80,90,100],"tickCount":30,"labelExpr":"datum.value % 20 === 0 ? datum.label : ''","title":"Time (min)","titlePadding":4,"labelOverlap":false}},
    "y":{"field":"y","type":"quantitative","scale":{"domain":[70,130],"nice":false,"zero":false},"axis":{"values":[70,85,100,115,130],"tickCount":30,"title":null,"labelOverlap":false}},
    "shape":{"field":"s","type":"nominal","scale":{"domain":["sq","tri"],"range":["square","triangle-up"]},"legend":null},
    "fill":{"field":"s","type":"nominal","scale":{"domain":["sq","tri"],"range":["#ffffff","#000000"]},"legend":null},
    "stroke":{"field":"s","type":"nominal","scale":{"domain":["sq","tri"],"range":["#666666","#000000"]},"legend":null}}},
  {"data":{"values":[{"s":"sq","t":12.1,"y":128.7},{"s":"tri","t":12.1,"y":122.1}]},"mark":{"type":"point","filled":true,"size":32,"strokeWidth":1,"opacity":1},"encoding":{"x":{"field":"t","type":"quantitative"},"y":{"field":"y","type":"quantitative"},
    "shape":{"field":"s","type":"nominal","scale":{"domain":["sq","tri"],"range":["square","triangle-up"]},"legend":null},
    "fill":{"field":"s","type":"nominal","scale":{"domain":["sq","tri"],"range":["#ffffff","#000000"]},"legend":null},
    "stroke":{"field":"s","type":"nominal","scale":{"domain":["sq","tri"],"range":["#666666","#000000"]},"legend":null}}},
  {"data":{"values":[{"t":17.2,"y":128.7,"label":"fSchaffer"},{"t":17.2,"y":122.1,"label":"pCommissural"},{"t":67,"y":125.4,"label":"⊿t > 40 ms"}]},"mark":{"type":"text","align":"left","baseline":"middle","fontSize":11.5},"encoding":{"x":{"field":"t","type":"quantitative"},"y":{"field":"y","type":"quantitative"},"text":{"field":"label"}}},
  {"data":{"values":[{"t":39.3,"y":77.3,"y2":80.8}]},"mark":{"type":"rule","color":"#000000","strokeWidth":1},"encoding":{"x":{"field":"t","type":"quantitative"},"y":{"field":"y","type":"quantitative"},"y2":{"field":"y2"}}},
  {"data":{"values":[{"t":39.3,"y":81.1}]},"mark":{"type":"point","shape":"triangle-up","filled":true,"color":"#000000","size":18,"opacity":1},"encoding":{"x":{"field":"t","type":"quantitative"},"y":{"field":"y","type":"quantitative"}}},
  {"data":{"values":[{"t":40.2,"y":73.7,"label":"5Hz SSt"}]},"mark":{"type":"text","align":"center","baseline":"middle","fontSize":11.5,"fontWeight":"bold"},"encoding":{"x":{"field":"t","type":"quantitative"},"y":{"field":"y","type":"quantitative"},"text":{"field":"label"}}},
  {"data":{"values":[{"t":-17.2,"y":134.7,"label":"D"}]},"mark":{"type":"text","align":"left","baseline":"alphabetic","fontSize":24,"fontWeight":"bold"},"encoding":{"x":{"field":"t","type":"quantitative"},"y":{"field":"y","type":"quantitative"},"text":{"field":"label"}}}
 ]
},
{
 "width":187,"height":149,
 "layer":[
  {"data":{"values":[{"x":-140,"x2":132,"y":200,"y2":200},{"x":132,"x2":132,"y":50,"y2":200}]},"mark":{"type":"rule","color":"#999999","strokeWidth":1},"encoding":{"x":{"field":"x","type":"quantitative"},"x2":{"field":"x2"},"y":{"field":"y","type":"quantitative"},"y2":{"field":"y2"}}},
  {"data":{"values":[{"x":-140,"x2":-140,"y":50,"y2":200}]},"mark":{"type":"rule","color":"#000000","strokeWidth":1},"encoding":{"x":{"field":"x","type":"quantitative"},"x2":{"field":"x2"},"y":{"field":"y","type":"quantitative"},"y2":{"field":"y2"}}},
  {"data":{"values":[{"x":-140,"x2":132,"y":100,"y2":100},{"x":0,"x2":0,"y":50,"y2":200}]},"mark":{"type":"rule","color":"#888888","strokeDash":[2,2],"strokeWidth":1},"encoding":{"x":{"field":"x","type":"quantitative"},"x2":{"field":"x2"},"y":{"field":"y","type":"quantitative"},"y2":{"field":"y2"}}},
  {"data":{"name":"sc"},"transform":[{"filter":"datum.p==='E'"}],"mark":{"type":"point","filled":true,"size":36,"strokeWidth":1,"opacity":1},"encoding":{
    "x":{"field":"x","type":"quantitative","scale":{"domain":[-140,132],"nice":false,"zero":false},"axis":{"values":[-120,-90,-60,-30,0,30,60,90,120],"tickCount":30,"labelFontWeight":"bold","labelFontSize":10.5,"title":"⊿t (ms)","titlePadding":5,"labelOverlap":false}},
    "y":{"field":"y","type":"quantitative","scale":{"domain":[50,209.64],"nice":false,"zero":false},"axis":{"values":[50,75,100,125,150,175,200],"tickCount":30,"domain":false,"labelFontWeight":"bold","labelFontSize":10.5,"title":"Synaptic plasticity (% baseline)","titleX":-29,"titleY":79,"labelOverlap":false}},
    "shape":{"field":"s","type":"nominal","scale":{"domain":["sq","tri"],"range":["square","triangle-up"]},"legend":null},
    "fill":{"field":"s","type":"nominal","scale":{"domain":["sq","tri"],"range":["#ffffff","#000000"]},"legend":null},
    "stroke":{"field":"s","type":"nominal","scale":{"domain":["sq","tri"],"range":["#666666","#000000"]},"legend":null}}},
  {"data":{"values":[{"x":-66,"y":207.5,"label":"fCommissural"},{"x":68.6,"y":207.5,"label":"pSchaffer"}]},"mark":{"type":"text","align":"center","baseline":"middle","fontSize":12},"encoding":{"x":{"field":"x","type":"quantitative"},"y":{"field":"y","type":"quantitative"},"text":{"field":"label"}}},
  {"data":{"values":[{"x":-166.5,"y":213.5,"label":"E"}]},"mark":{"type":"text","align":"left","baseline":"alphabetic","fontSize":24,"fontWeight":"bold"},"encoding":{"x":{"field":"x","type":"quantitative"},"y":{"field":"y","type":"quantitative"},"text":{"field":"label"}}}
 ]
},
{
 "width":189,"height":149,
 "layer":[
  {"data":{"values":[{"x":-140,"x2":140,"y":200,"y2":200},{"x":140,"x2":140,"y":50,"y2":200}]},"mark":{"type":"rule","color":"#999999","strokeWidth":1},"encoding":{"x":{"field":"x","type":"quantitative"},"x2":{"field":"x2"},"y":{"field":"y","type":"quantitative"},"y2":{"field":"y2"}}},
  {"data":{"values":[{"x":-140,"x2":-140,"y":50,"y2":200}]},"mark":{"type":"rule","color":"#000000","strokeWidth":1},"encoding":{"x":{"field":"x","type":"quantitative"},"x2":{"field":"x2"},"y":{"field":"y","type":"quantitative"},"y2":{"field":"y2"}}},
  {"data":{"values":[{"x":-140,"x2":140,"y":100,"y2":100},{"x":0,"x2":0,"y":50,"y2":200}]},"mark":{"type":"rule","color":"#888888","strokeDash":[2,2],"strokeWidth":1},"encoding":{"x":{"field":"x","type":"quantitative"},"x2":{"field":"x2"},"y":{"field":"y","type":"quantitative"},"y2":{"field":"y2"}}},
  {"data":{"name":"sc"},"transform":[{"filter":"datum.p==='F'"}],"mark":{"type":"point","filled":true,"size":36,"strokeWidth":1,"opacity":1},"encoding":{
    "x":{"field":"x","type":"quantitative","scale":{"domain":[-140,140],"nice":false,"zero":false},"axis":{"values":[-120,-90,-60,-30,0,30,60,90,120],"tickCount":30,"labelFontWeight":"bold","labelFontSize":10.5,"title":"⊿t (ms)","titlePadding":5,"labelOverlap":false}},
    "y":{"field":"y","type":"quantitative","scale":{"domain":[50,209.64],"nice":false,"zero":false},"axis":{"values":[50,75,100,125,150,175,200],"tickCount":30,"domain":false,"labelFontWeight":"bold","labelFontSize":10.5,"title":null,"labelOverlap":false}},
    "shape":{"field":"s","type":"nominal","scale":{"domain":["sq","tri"],"range":["square","triangle-up"]},"legend":null},
    "fill":{"field":"s","type":"nominal","scale":{"domain":["sq","tri"],"range":["#ffffff","#000000"]},"legend":null},
    "stroke":{"field":"s","type":"nominal","scale":{"domain":["sq","tri"],"range":["#555555","#000000"]},"legend":null}}},
  {"data":{"values":[{"x":-69,"y":207.5,"label":"fSchaffer"},{"x":73,"y":207.5,"label":"pCommissural"}]},"mark":{"type":"text","align":"center","baseline":"middle","fontSize":12},"encoding":{"x":{"field":"x","type":"quantitative"},"y":{"field":"y","type":"quantitative"},"text":{"field":"label"}}},
  {"data":{"values":[{"x":-170,"y":212.5,"label":"F"}]},"mark":{"type":"text","align":"left","baseline":"alphabetic","fontSize":24,"fontWeight":"bold"},"encoding":{"x":{"field":"x","type":"quantitative"},"y":{"field":"y","type":"quantitative"},"text":{"field":"label"}}}
 ]
}
]
}
